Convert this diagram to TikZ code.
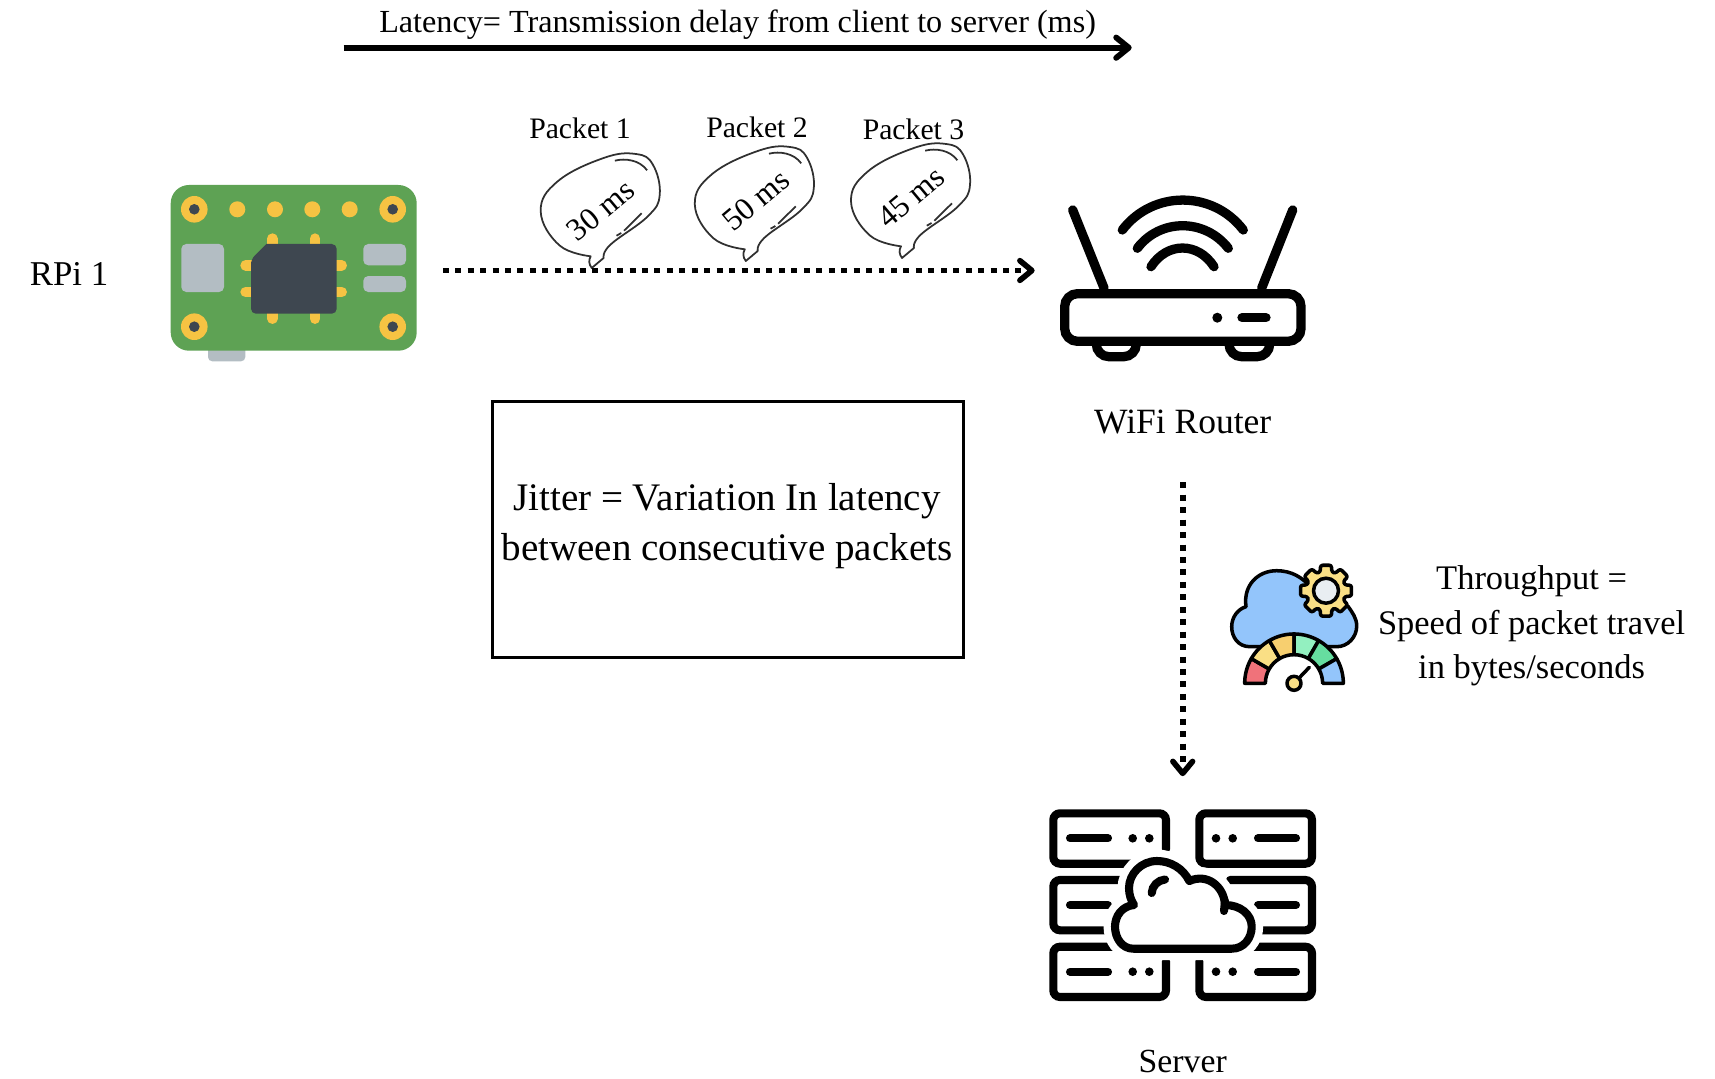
\documentclass[tikz,border=0pt]{standalone}
\usepackage{fontspec}
\setmainfont{Liberation Serif}
\usetikzlibrary{arrows.meta,positioning}
\definecolor{boardgreen}{HTML}{5EA254}
\definecolor{padyellow}{HTML}{F6C343}
\definecolor{chipdark}{HTML}{3E4750}
\definecolor{portgrey}{HTML}{B3BDC3}
\definecolor{cloudblue}{HTML}{93C5FB}
\definecolor{gred}{HTML}{F0727A}
\definecolor{gyellow}{HTML}{FADF85}
\definecolor{gorange}{HTML}{F7CF6F}
\definecolor{glight}{HTML}{93F0C0}
\definecolor{ggreen}{HTML}{66DDA0}
\definecolor{gearcore}{HTML}{E9EEF2}
\definecolor{bubbleline}{HTML}{303030}
\tikzset{
  iconbox/.style={inner sep=0pt, outer sep=0pt},
  lbl/.style={inner sep=0pt, outer sep=0pt, font=\fontsize{9.6}{12}\selectfont},
  pktlbl/.style={inner sep=0pt, font=\fontsize{8.45}{10}\selectfont},
  delay/.style={inner sep=0pt, rotate=40, font=\fontsize{9}{11}\selectfont},
  dotarrow/.style={line width=1.7pt, dash pattern=on 1.7pt off 1.84pt,
    -{Straight Barb[length=3.4pt,width=5.6pt,line width=1.6pt,round]}},
  routline/.style={line width=2.64pt, line cap=round},
  servline/.style={line width=2.3pt, line cap=round, rounded corners=1.9pt},
  gaugeline/.style={line width=1pt, line join=round},
  pics/packetbubble/.style={code={
    \draw[bubbleline, line width=0.5pt, line join=round, xscale=1.02] (0,0)
      .. controls (-3,-4) and (-3,-8) .. (-1,-11.7)
      -- plot[smooth, tension=0.7] coordinates {(-1,-11.7) (-31.7,-22.7) (-50,-56.7) (-33.3,-86.7)
        (11.7,-110) (43.3,-114) (60,-103.3) (66.7,-73.3) (55,-51.7) (18.3,-23.3) (11.7,-10)}
      -- cycle;
    \draw[bubbleline, line width=0.5pt, xscale=1.02] (22.7,-107.3) .. controls (33,-110) and (47,-108) .. (54.3,-97.7);
    \draw[bubbleline, line width=0.5pt, xscale=1.02] (24.3,-32.3) -- (29,-35);
    \draw[bubbleline, line width=0.5pt, xscale=1.02] (31.7,-37.3) -- (49,-54.7);
  }}
}
\begin{document}
\begin{tikzpicture}[x=0.01cm, y=-0.01cm]
\useasboundingbox (0,0) rectangle (1715,1079);

\node[iconbox, minimum width=2.46cm, minimum height=1.7cm] (rpi) at (293.7,270.5) {};
\node[iconbox, minimum width=2.46cm, minimum height=1.5cm] (router) at (1182.7,270.5) {};
\node[iconbox, minimum width=2.67cm, minimum height=1.9cm] (server) at (1182.7,905) {};
\node[lbl, font=\fontsize{9.9}{12}\selectfont] (rpi_lbl) at (69,273.5) {RPi 1};
\node[lbl, font=\fontsize{10.1}{12}\selectfont, below of=router, node distance=1.515cm] (router_lbl) {WiFi Router};
\node[lbl, below of=server, node distance=1.56cm] (server_lbl) {Server};

% board
\fill[portgrey, rounded corners=1.2pt] (208,340) rectangle (245.3,361.3);
\fill[boardgreen, rounded corners=5.2pt] (170.7,185) rectangle (416.7,350.7);
\foreach \px/\py in {194.3/209.3,392.7/209.3,194.3/326.7,392.7/326.7}{
  \fill[padyellow] (\px,\py) circle[radius=13.3];
  \fill[chipdark] (\px,\py) circle[radius=5.3];
}
\foreach \px in {237.3,275,312.3,349.7}
  \fill[padyellow] (\px,209.3) circle[radius=8];
\fill[portgrey, rounded corners=1.4pt] (181.3,244) rectangle (224,292);
\fill[portgrey, rounded corners=1.4pt] (363.3,244) rectangle (406,265.3);
\fill[portgrey, rounded corners=1.4pt] (363.3,276) rectangle (406,292);
\foreach \px in {272.3,315}
  \draw[padyellow, line width=3pt, line cap=round] (\px,238.6) -- (\px,318.7);
\foreach \py in {265.3,292}
  \draw[padyellow, line width=3pt, line cap=round] (245.6,\py) -- (341.7,\py);
\fill[chipdark, rounded corners=1.4pt] (251,259.3) [sharp corners] -- (266.3,244) [rounded corners=1.4pt] -- (336.7,244) -- (336.7,313.7) -- (251,313.7) -- cycle;

% router
\draw[routline] (1072.7,210) -- (1104,288);
\draw[routline] (1292.7,210) -- (1261.7,288);
\draw[routline] (1122.3,230) .. controls (1152.7,190.1) and (1212.9,190.1) .. (1243.3,230);
\draw[routline] (1137.3,248.3) .. controls (1160,218.2) and (1205,218.2) .. (1228.3,248.3);
\draw[routline] (1151,266.7) .. controls (1167,241.8) and (1198,241.8) .. (1214,266.7);
\draw[routline, rounded corners=3.6pt] (1096.3,342) -- (1096.3,356.7) -- (1136.3,356.7) -- (1136.3,342);
\draw[routline, rounded corners=3.6pt] (1229,342) -- (1229,356.7) -- (1269.7,356.7) -- (1269.7,342);
\draw[routline, fill=white, rounded corners=3.6pt] (1064.7,293.7) rectangle (1301,341.3);
\fill (1217.3,317.7) circle[radius=5];
\draw[routline] (1242,317.7) -- (1266,317.7);

% server
\draw[servline] (1166,849.3) -- (1166,813.3) -- (1053.3,813.3) -- (1053.3,863.7) -- (1140,863.7);
\draw[servline] (1199.3,813.3) rectangle (1312,863.7);
\draw[servline] (1130,880) -- (1053.3,880) -- (1053.3,930.3) -- (1130,930.3);
\draw[servline] (1230,880) -- (1312,880) -- (1312,930.3) -- (1235,930.3);
\draw[servline] (1125,946.7) -- (1053.3,946.7) -- (1053.3,997) -- (1166,997) -- (1166,961.3);
\draw[servline] (1199.3,961.3) -- (1199.3,997) -- (1312,997) -- (1312,946.7) -- (1240,946.7);
\foreach \py in {838.3,905,971.7}{
  \draw[servline] (1070,\py) -- (1108,\py);
  \draw[servline] (1258,\py) -- (1296,\py);
}
\foreach \py in {838.3,971.7}
  \foreach \px in {1132.7,1149.3,1216,1232.7}
    \fill (\px,\py) circle[radius=4.3];
\draw[servline, sharp corners, line join=round, fill=white, preaction={draw=white, line width=6.5pt}] (1133.3,948.7) -- (1231.7,948.7)
  .. controls (1244,948.7) and (1251.7,938) .. (1251.7,926.7)
  .. controls (1251.7,914) and (1240,905) .. (1225,905)
  .. controls (1224,886) and (1207,873) .. (1189.3,881)
  .. controls (1183,868) and (1170,861) .. (1157,861)
  .. controls (1141,861) and (1129,874) .. (1129,888)
  .. controls (1129,895) and (1131,900) .. (1134,905)
  .. controls (1122,906) and (1115,916) .. (1115,926.7)
  .. controls (1115,938) and (1122,948.7) .. (1133.3,948.7) -- cycle;
\draw[servline] (1224,911) -- (1225,901);
\draw[servline] (1151.7,893) .. controls (1152,886) and (1158,880) .. (1165,879.5);

% throughput icon
\coordinate (gaugec) at (1294,683.3);
\coordinate (gearc) at (1326,590.7);
\draw[gaugeline, fill=cloudblue] (1250,646.7)
  .. controls (1238,646.7) and (1231.7,637) .. (1231.7,626.7)
  .. controls (1231.7,617) and (1238,609) .. (1246,606.7)
  .. controls (1243,585) and (1258,570.7) .. (1276.7,570.7)
  .. controls (1292,570.7) and (1303,578) .. (1310,586.7)
  -- (1348.3,606.7)
  .. controls (1352,612) and (1356.7,618) .. (1356.7,626)
  .. controls (1356.7,637) and (1348,646.7) .. (1336.7,646.7) -- cycle;
\draw[gaugeline, fill=gyellow, rounded corners=0.6pt] ([shift={(-12:7.4pt)}]gearc)
  \foreach \t in {0,45,...,315}{
    -- ([shift={(\t-12:7.4pt)}]gearc) -- ([shift={(\t+12:7.4pt)}]gearc)
    -- ([shift={(\t+17:5.6pt)}]gearc) -- ([shift={(\t+28:5.6pt)}]gearc)
  } -- cycle;
\draw[gaugeline, fill=gearcore] (gearc) circle[radius=12.5];
\foreach \ang/\col in {150/gred,120/gyellow,90/gorange,60/glight,30/ggreen,0/cloudblue}
  \draw[gaugeline, fill=\col] ([shift={(\ang:14.03pt)}]gaugec) arc[start angle=\ang, delta angle=30, radius=14.03pt]
    -- ([shift={(\ang+30:8.14pt)}]gaugec) arc[start angle=\ang+30, delta angle=-30, radius=8.14pt] -- cycle;
\draw[gaugeline, line cap=round] (gaugec) -- (1309.3,667.3);
\draw[gaugeline, fill=gyellow] (gaugec) circle[radius=7];

% packets
\pic at (591.7,268) {packetbubble};
\pic at (745.8,261) {packetbubble};
\pic at (902,258) {packetbubble};
\node[delay] (delay_a) at (600.6,210) {30 ms};
\node[delay] (delay_b) at (756,200) {50 ms};
\node[delay] (delay_c) at (911,197) {45 ms};
\node[pktlbl] (pkt_a) at (580,128) {Packet 1};
\node[pktlbl] (pkt_b) at (757,127) {Packet 2};
\node[pktlbl] (pkt_c) at (913.5,129) {Packet 3};

% latency and jitter
\coordinate (lat_start) at (343.5,47.7);
\coordinate (lat_end) at (1131.7,47.7);
\draw[line width=1.65pt, -{Straight Barb[length=3.6pt,width=5.8pt,line width=1.65pt,round]}] (lat_start) -- node[above=1.6pt, inner sep=0pt, font=\fontsize{9.15}{11}\selectfont] (lat_lbl) {Latency= Transmission delay from client to server (ms)} (lat_end);
\node[draw, line width=0.85pt, minimum width=4.715cm, minimum height=2.56cm] (jitter) at (728,529.5) {};
\node[inner sep=0pt, align=center, font=\fontsize{11.1}{14.3}\selectfont] (jitter_txt) at (727,526.3) {Jitter = Variation In latency\\between consecutive packets};
\node[inner sep=0pt, align=center, font=\fontsize{9.8}{12.7}\selectfont] (thr_txt) at (1531.6,626) {Throughput =\\Speed of packet travel\\in bytes/seconds};

\draw[dotarrow, shorten <=7.4pt, shorten >=7.1pt] (rpi) -- (router);
\draw[dotarrow, shorten <=13.7pt, shorten >=9.6pt] (router_lbl) -- (server);
\end{tikzpicture}
\end{document}
